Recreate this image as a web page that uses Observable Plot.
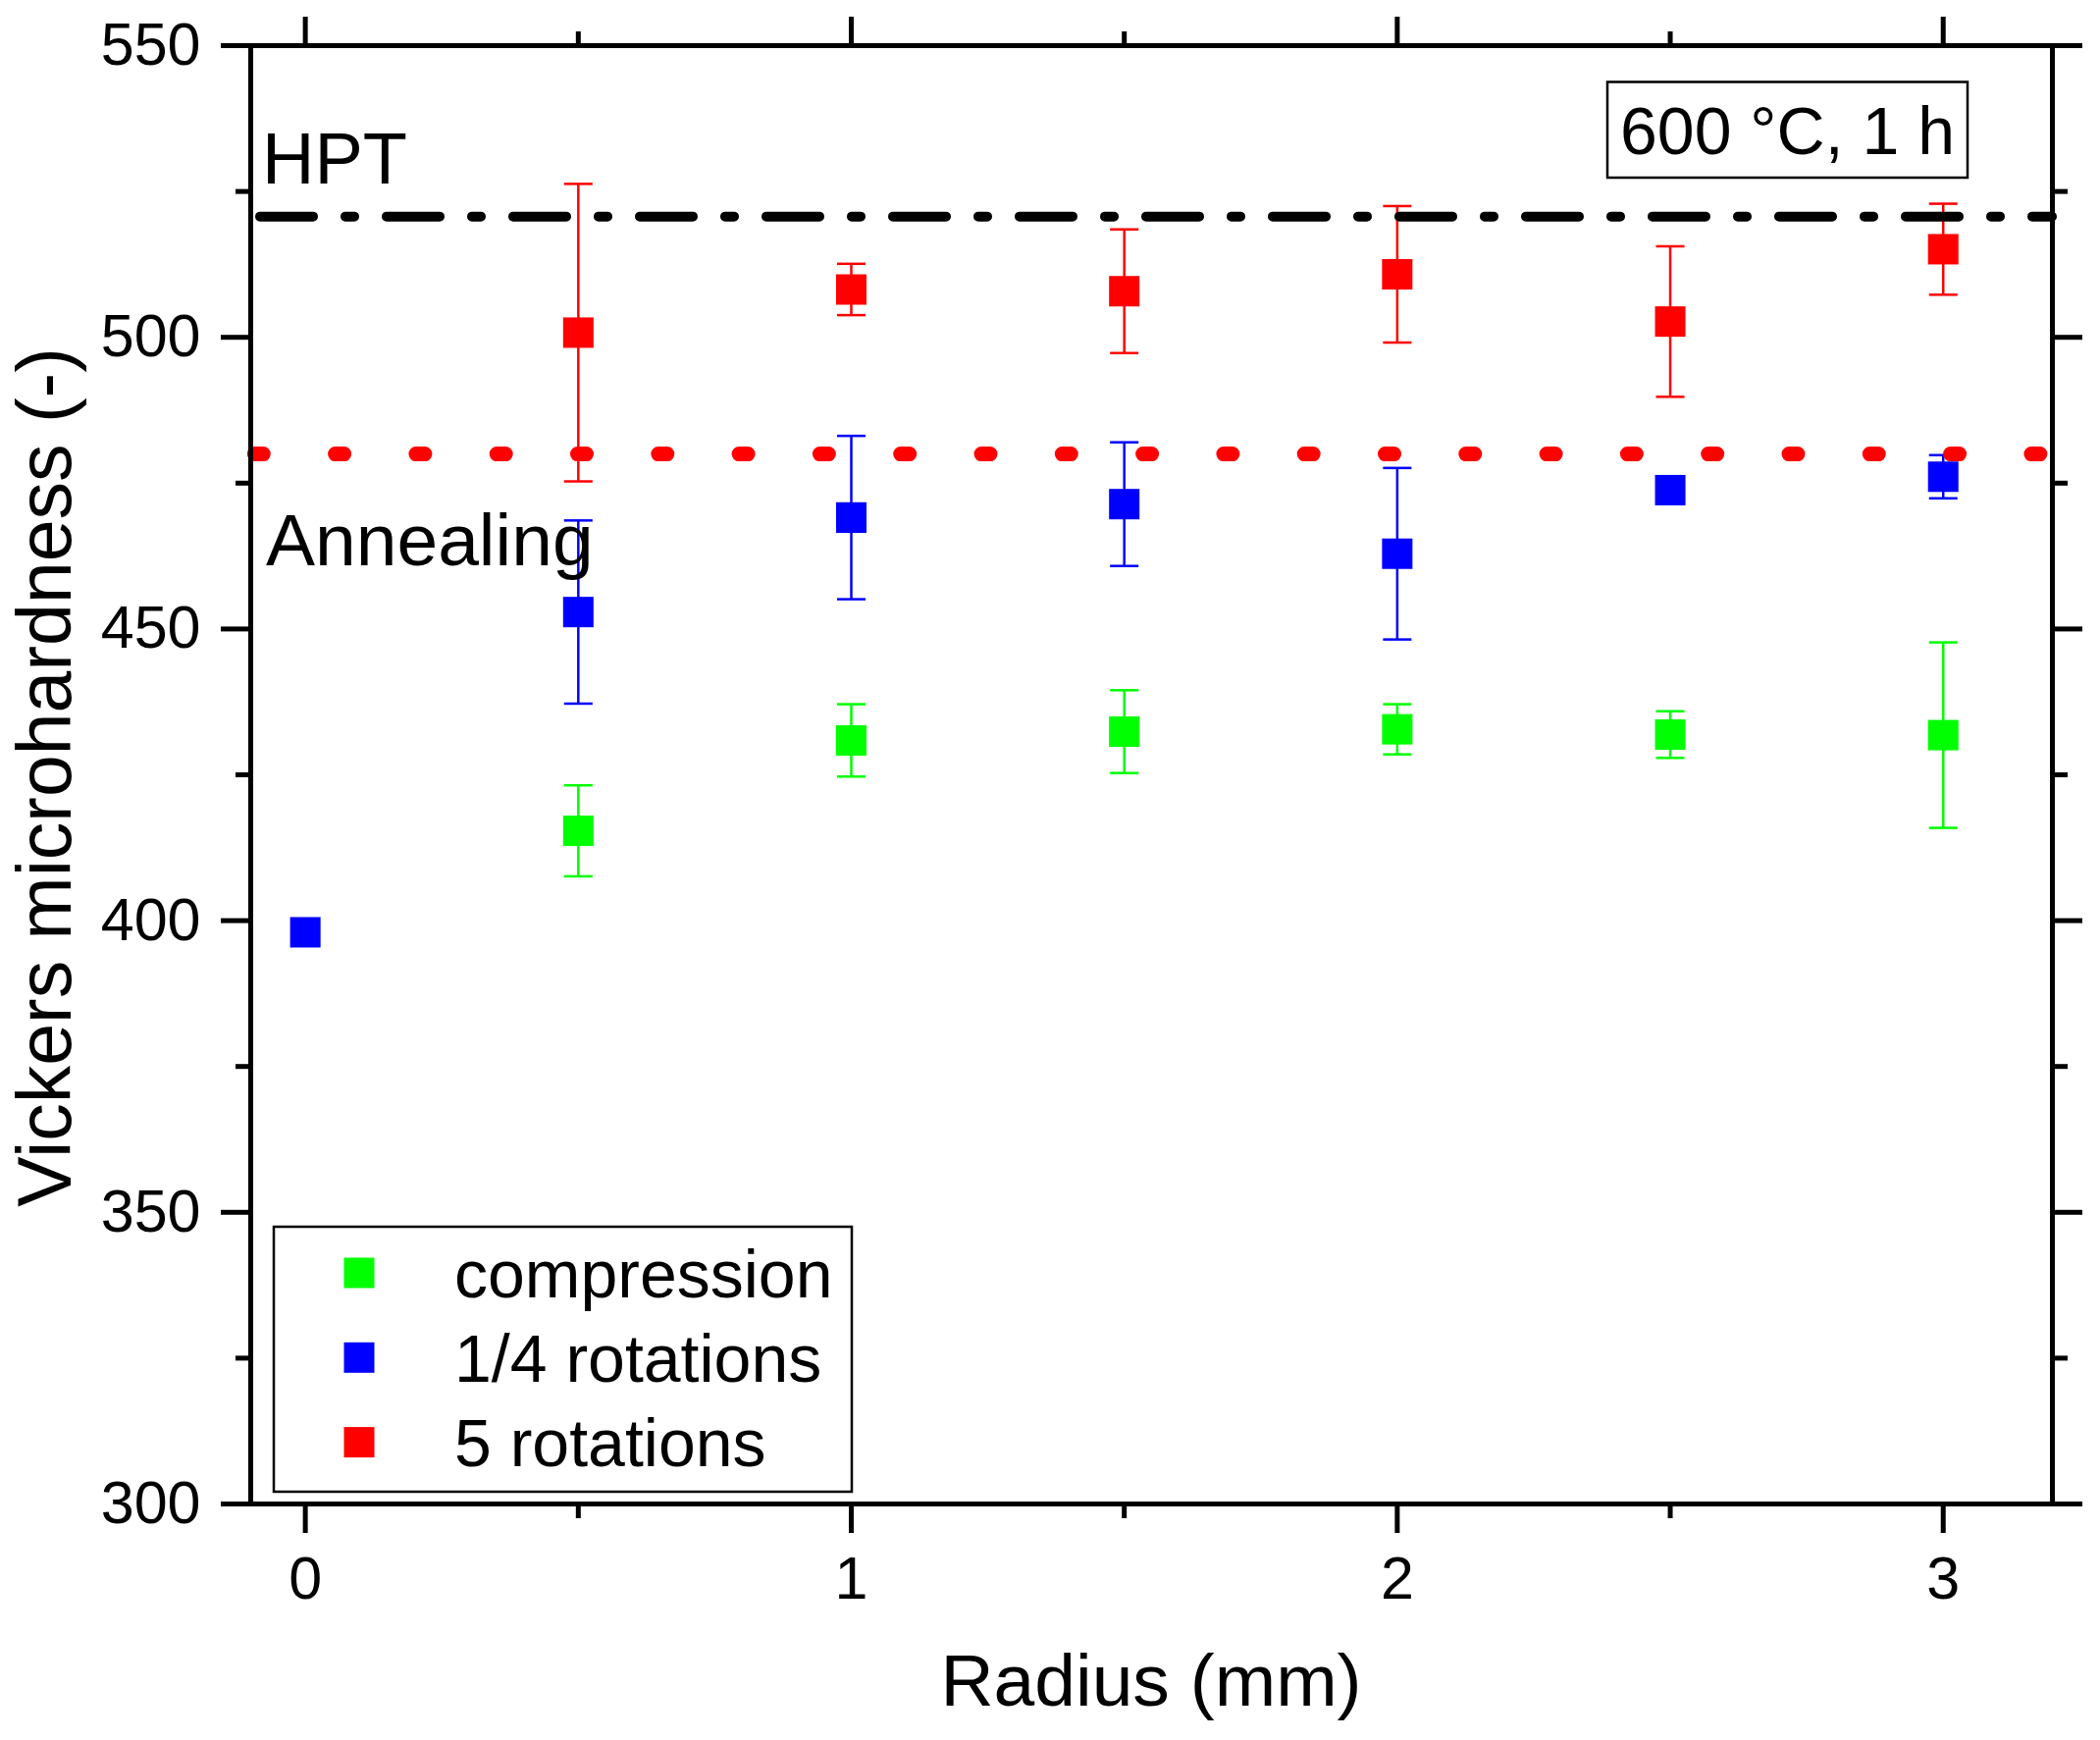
<!DOCTYPE html>
<html>
<head>
<meta charset="utf-8">
<script src="https://cdn.jsdelivr.net/npm/d3@7"></script>
<script src="https://cdn.jsdelivr.net/npm/@observablehq/plot@0.6"></script>
<style>
  html, body { margin: 0; padding: 0; background: #ffffff; }
  #chart svg { display: block; }
</style>
</head>
<body>
<div id="chart"></div>
<script>
// ---- data ----
const seriesNames = ["compression", "1/4 rotations", "5 rotations"];
const seriesColors = ["#00ff00", "#0000ff", "#ff0000"];

const compressionRadius = [0.5, 1, 1.5, 2, 2.5, 3];
const compressionHV     = [415.4, 430.9, 432.4, 432.8, 431.9, 431.8];
const compressionErr    = [7.8, 6.2, 7.1, 4.3, 4.0, 15.9];

const quarterRadius = [0, 0.5, 1, 1.5, 2, 2.5, 3];
const quarterHV     = [398.0, 452.9, 469.1, 471.4, 462.9, 473.8, 476.1];
const quarterErr    = [0, 15.7, 14.0, 10.6, 14.7, 2.0, 3.7];

const fiveRadius = [0.5, 1, 1.5, 2, 2.5, 3];
const fiveHV     = [500.8, 508.2, 507.9, 510.8, 502.7, 515.1];
const fiveErr    = [25.5, 4.4, 10.6, 11.7, 12.9, 7.8];

const hptLevel = [520.7];
const annealingLevel = [480];
const referenceLabels = ["HPT", "Annealing"];
const conditionLabel = "600 °C, 1 h";

const xMajorTicks = [0, 1, 2, 3];
const xMinorTicks = [0.5, 1.5, 2.5];
const yMajorTicks = [300, 350, 400, 450, 500, 550];
const yMinorTicks = [325, 375, 425, 475, 525];
const xDomain = [-0.1, 3.2];
const yDomain = [300, 550];
const xTitle = "Radius (mm)";
const yTitle = "Vickers microhardness (-)";

// ---- build table ----
const rows = [];
[[compressionRadius, compressionHV, compressionErr],
 [quarterRadius, quarterHV, quarterErr],
 [fiveRadius, fiveHV, fiveErr]].forEach(([rs, vs, es], i) => {
  rs.forEach((r, j) => rows.push({series: seriesNames[i], r, v: vs[j], e: es[j]}));
});

const FONT = "'Liberation Sans', Arial, Helvetica, sans-serif";

// horizontal cap symbol for error bars
const capSymbol = {
  draw(ctx, size) {
    const r = Math.sqrt(size / Math.PI);
    ctx.moveTo(-r, 0);
    ctx.lineTo(r, 0);
  }
};

function annotations(index, scales, values, dims) {
  const g = d3.create("svg:g").attr("font-family", FONT).attr("fill", "black")
    .attr("text-anchor", "start");
  const left = dims.marginLeft;
  const right = dims.width - dims.marginRight;
  const top = dims.marginTop;
  const bottom = dims.height - dims.marginBottom;

  // reference line labels
  g.append("text").attr("x", left + 12).attr("y", scales.y(hptLevel[0]) - 33)
    .attr("font-size", 74).text(referenceLabels[0]);
  g.append("text").attr("x", left + 16).attr("y", scales.y(annealingLevel[0]) + 114)
    .attr("font-size", 75).text(referenceLabels[1]);

  // condition box (top right)
  const bx = right - 453, by = top + 37.5, bw = 367, bh = 97.5;
  g.append("rect").attr("x", bx).attr("y", by).attr("width", bw).attr("height", bh)
    .attr("fill", "white").attr("stroke", "black").attr("stroke-width", 2.5);
  g.append("text").attr("x", bx + bw / 2).attr("y", by + 73.5).attr("text-anchor", "middle")
    .attr("font-size", 68).text(conditionLabel);

  // legend (bottom left inside frame)
  const lx = left + 24, ly = bottom - 282, lw = 589, lh = 270;
  g.append("rect").attr("x", lx).attr("y", ly).attr("width", lw).attr("height", lh)
    .attr("fill", "white").attr("stroke", "black").attr("stroke-width", 2.5);
  seriesNames.forEach((name, i) => {
    const cy = ly + 47 + i * 86.3;
    g.append("rect").attr("x", lx + 71.5).attr("y", cy - 15.5).attr("width", 31).attr("height", 31)
      .attr("fill", seriesColors[i]);
    g.append("text").attr("x", lx + 184).attr("y", cy + 24.5).attr("font-size", 68).text(name);
  });

  // axis titles
  g.append("text").attr("x", (left + right) / 2).attr("y", bottom + 206)
    .attr("text-anchor", "middle").attr("font-size", 75).text(xTitle);
  g.append("text").attr("transform", `translate(72,${(top + bottom) / 2 + 3}) rotate(-90)`)
    .attr("text-anchor", "middle").attr("font-size", 77).text(yTitle);
  return g.node();
}

const tickOnly = {fill: "none", strokeWidth: 5, label: null};

const chart = Plot.plot({
  width: 2140,
  height: 1773,
  marginLeft: 255,
  marginRight: 49,
  marginTop: 46,
  marginBottom: 241,
  style: {fontFamily: FONT, color: "black", background: "white"},
  x: {domain: xDomain, axis: null},
  y: {domain: yDomain, axis: null},
  color: {domain: seriesNames, range: seriesColors},
  marks: [
    // error bars
    Plot.ruleX(rows.filter(d => d.e > 0), {x: "r", y1: d => d.v - d.e, y2: d => d.v + d.e, stroke: "series", strokeWidth: 2.5}),
    Plot.dot(rows.filter(d => d.e > 0), {x: "r", y: d => d.v + d.e, symbol: capSymbol, r: 14.5, stroke: "series", strokeWidth: 2.5, fill: "none"}),
    Plot.dot(rows.filter(d => d.e > 0), {x: "r", y: d => d.v - d.e, symbol: capSymbol, r: 14.5, stroke: "series", strokeWidth: 2.5, fill: "none"}),
    // square markers
    Plot.dot(rows, {x: "r", y: "v", symbol: "square", r: 17.5, fill: "series"}),
    // reference lines
    Plot.ruleY(hptLevel, {stroke: "black", strokeWidth: 10, strokeDasharray: "54,33,9,33", strokeDashoffset: 119, strokeLinecap: "round"}),
    Plot.ruleY(annealingLevel, {stroke: "#ff0000", strokeWidth: 15, strokeDasharray: "9,73.3", strokeDashoffset: 78, strokeLinecap: "round"}),
    // axes
    Plot.axisX(xMajorTicks, {anchor: "bottom", tickSize: 30, tickPadding: 23, strokeWidth: 5, fontSize: 61, label: null, tickFormat: d => `${d}`}),
    Plot.axisX(xMinorTicks, {anchor: "bottom", tickSize: 15, ...tickOnly}),
    Plot.axisX(xMajorTicks, {anchor: "top", tickSize: 30, ...tickOnly}),
    Plot.axisX(xMinorTicks, {anchor: "top", tickSize: 15, ...tickOnly}),
    Plot.axisY(yMajorTicks, {anchor: "left", tickSize: 30, tickPadding: 21, strokeWidth: 5, fontSize: 61, label: null, tickFormat: d => `${d}`}),
    Plot.axisY(yMinorTicks, {anchor: "left", tickSize: 15, ...tickOnly}),
    Plot.axisY(yMajorTicks, {anchor: "right", tickSize: 30, ...tickOnly}),
    Plot.axisY(yMinorTicks, {anchor: "right", tickSize: 15, ...tickOnly}),
    Plot.frame({stroke: "black", strokeWidth: 5}),
    annotations
  ]
});
document.getElementById("chart").appendChild(chart);
</script>
</body>
</html>
